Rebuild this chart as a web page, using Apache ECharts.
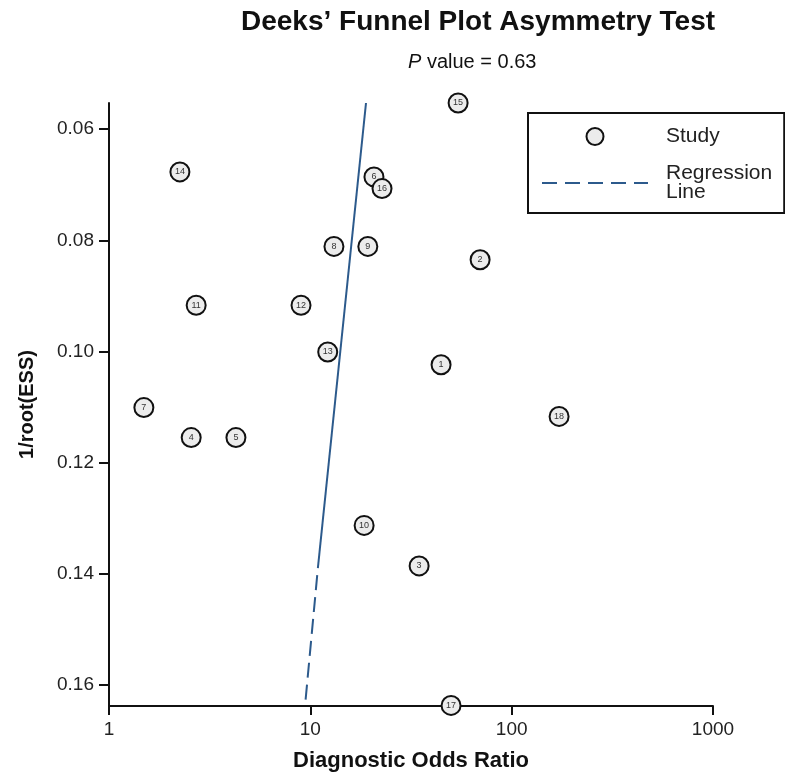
<!DOCTYPE html>
<html>
<head>
<meta charset="utf-8">
<title>Deeks' Funnel Plot</title>
<script src="https://cdn.jsdelivr.net/npm/echarts@6/dist/echarts.min.js"></script>
<style>
  html, body { margin: 0; padding: 0; background: #fff; }
  #container { width: 785px; height: 777px; }
</style>
</head>
<body>
<div id="container"></div>
<script>
// study data
var studyIds = ["1", "2", "3", "4", "5", "6", "7", "8", "9", "10", "11", "12", "13", "14", "15", "16", "17", "18"];
var studyDor = [44.6, 69.7, 34.7, 2.56, 4.27, 20.7, 1.49, 13.1, 19.3, 18.5, 2.71, 8.99, 12.2, 2.25, 54.2, 22.7, 50.0, 172];
var studyInvRootEss = [0.1024, 0.0835, 0.1386, 0.1155, 0.1155, 0.0686, 0.1101, 0.0811, 0.0811, 0.1313, 0.0917, 0.0917, 0.1001, 0.0677, 0.0553, 0.0707, 0.1637, 0.1117];

// regression line: solid part and dashed part
var regSolidDor = [18.9, 10.9];
var regSolidY = [0.0553, 0.1390];
var regDashDor = [10.9, 9.41];
var regDashY = [0.1390, 0.1638];

var yTicks = [0.06, 0.08, 0.10, 0.12, 0.14, 0.16];

var font = "Liberation Sans, Arial, Helvetica, sans-serif";
var regColor = "#2c5a8c";

var dom = document.getElementById("container");
var myChart = echarts.init(dom);

var studyData = studyIds.map(function(id, i) {
  return [studyDor[i], studyInvRootEss[i], id];
});
var regSolid = regSolidDor.map(function(x, i) { return [x, regSolidY[i]]; });
var regDash = regDashDor.map(function(x, i) { return [x, regDashY[i]]; });

var option = {
  animation: false,
  title: [
    {
      text: "Deeks\u2019 Funnel Plot Asymmetry Test",
      left: 236,
      top: 3,
      textStyle: { fontFamily: font, fontSize: 28, fontWeight: "bold", color: "#111" }
    },
    {
      text: "{i|P} value = 0.63",
      left: 403,
      top: 47,
      textStyle: {
        fontFamily: font, fontSize: 20, fontWeight: "normal", color: "#111",
        rich: { i: { fontFamily: font, fontSize: 20, fontStyle: "italic", color: "#111" } }
      }
    }
  ],
  legend: {
    orient: "vertical",
    left: 528,
    top: 113,
    borderColor: "#111",
    borderWidth: 2,
    padding: [13, 12, 10, 13],
    itemWidth: 106,
    itemHeight: 17,
    itemGap: 16,
    textStyle: { fontFamily: font, fontSize: 21, color: "#222", lineHeight: 19, padding: [0, 0, 0, 13] },
    formatter: function(name) {
      return name === "Regression Line" ? "Regression\nLine" : name;
    },
    data: [
      { name: "Study", icon: "circle" },
      {
        name: "Regression Line",
        itemStyle: { opacity: 0 },
        lineStyle: { color: regColor, width: 2, type: [15, 8], dashOffset: 0, opacity: 1 }
      }
    ]
  },
  grid: {
    left: 109,
    right: 72,
    top: 103,
    bottom: 69
  },
  xAxis: {
    type: "log",
    logBase: 10,
    min: 1,
    max: 1000,
    name: "Diagnostic Odds Ratio",
    nameLocation: "middle",
    nameGap: 44,
    nameTextStyle: { fontFamily: font, fontSize: 22, fontWeight: "bold", color: "#111" },
    axisLine: { lineStyle: { color: "#111", width: 2 } },
    axisTick: { length: 9, lineStyle: { color: "#111", width: 2 } },
    axisLabel: {
      fontFamily: font, fontSize: 19, color: "#222", margin: 14,
      formatter: function(v) { return String(Math.round(v)); }
    },
    splitLine: { show: false },
    minorTick: { show: false }
  },
  yAxis: {
    type: "value",
    inverse: true,
    min: 0.0553,
    max: 0.1638,
    name: "1/root(ESS)",
    nameLocation: "middle",
    nameRotate: 90,
    nameGap: 72,
    nameTextStyle: { fontFamily: font, fontSize: 20, fontWeight: "bold", color: "#111" },
    axisLine: { show: true, lineStyle: { color: "#111", width: 2 } },
    axisTick: { show: true, length: 10, customValues: yTicks, lineStyle: { color: "#111", width: 2 } },
    axisLabel: {
      fontFamily: font, fontSize: 19, color: "#222", margin: 15,
      customValues: yTicks,
      formatter: function(v) { return v.toFixed(2); }
    },
    splitLine: { show: false }
  },
  series: [
    {
      name: "Regression Line",
      type: "line",
      data: regDash,
      symbol: "none",
      clip: false,
      lineStyle: { color: regColor, width: 2, type: [15, 7], dashOffset: 15 },
      itemStyle: { color: regColor },
      z: 2
    },
    {
      name: "Regression Line",
      type: "line",
      data: regSolid,
      symbol: "none",
      clip: false,
      lineStyle: { color: regColor, width: 2, type: "solid" },
      itemStyle: { color: regColor },
      z: 2
    },
    {
      name: "Study",
      type: "scatter",
      data: studyData,
      symbol: "circle",
      symbolSize: 19,
      clip: false,
      itemStyle: { color: "#ececec", borderColor: "#111", borderWidth: 2, opacity: 1 },
      label: {
        show: true,
        position: "inside",
        fontFamily: font,
        fontSize: 9,
        color: "#333",
        formatter: function(p) { return p.value[2]; }
      },
      z: 3
    }
  ]
};

if (option && typeof option === "object") {
  myChart.setOption(option, true);
}
</script>
</body>
</html>
